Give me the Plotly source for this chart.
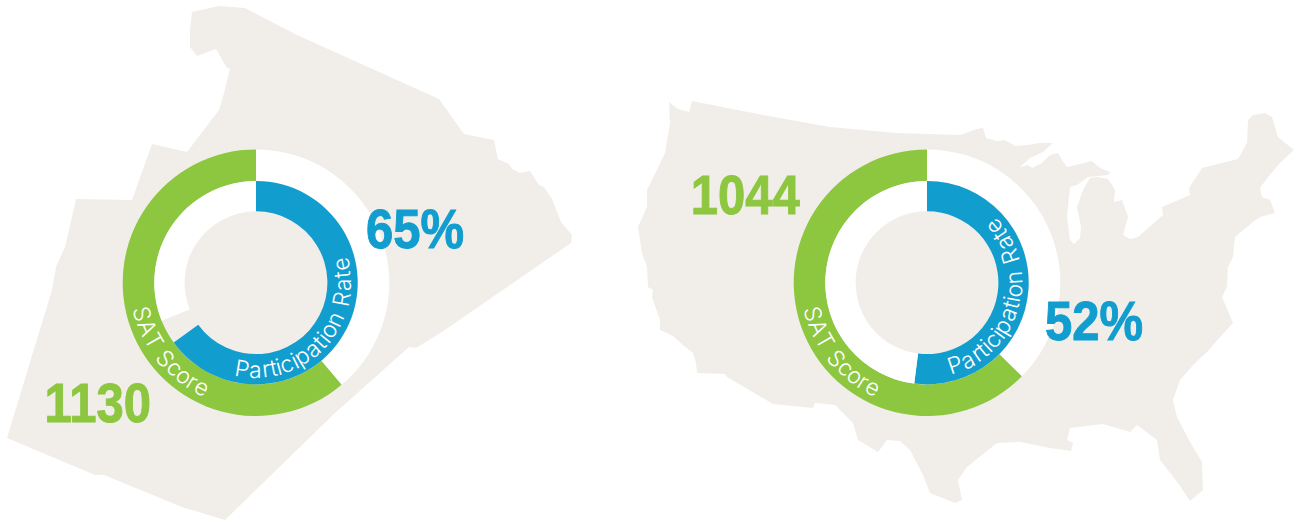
import math
import plotly.graph_objects as go

W, H = 1299, 525
BEIGE, GREEN, BLUE, WHITE = "#F1EEEA", "#8DC63F", "#129DCF", "#FFFFFF"
CLEAR = "rgba(0,0,0,0)"

# Region outlines (image pixels)
region_x = [192,219,245,297,439,464,494,498,509,512,520,530,539,544,552,561,572,571,442,416,409,335,225,182,104,95,7,52,56,65,72,76,132,152,187,219,223,230,227,216,197,190,190]
region_y = [12,6,8,35,99,134,140,159,164,169,173,171,185,187,199,222,235,243,332,348,347,413,520,507,475,475,438,290,267,247,217,199,200,144,152,110,97,69,68,49,56,47,30]

usa_x = [669,678,689,692,763,830,897,960,977,983,986,997,1005,1015,1027,1040,1053,1043,1030,1020,1028,1032,1042,1050,1058,1062,1067,1075,1092,1100,1110,1108,1097,1088,1077,1070,1067,1070,1074,1080,1081,1077,1083,1090,1098,1108,1115,1114,1122,1128,1123,1130,1138,1163,1162,1173,1190,1189,1202,1238,1247,1248,1253,1265,1272,1278,1294,1280,1268,1260,1262,1270,1275,1260,1253,1235,1233,1228,1227,1222,1233,1220,1207,1195,1180,1173,1177,1190,1202,1203,1190,1178,1160,1157,1137,1130,1103,1070,1067,1073,1071,1050,1020,997,967,958,962,955,930,923,910,900,887,878,858,853,835,815,813,773,727,725,697,696,693,683,673,660,660,652,653,648,647,642,638,647,647,653,665,670]
usa_y = [102,109,112,101,115,127,133,135,129,128,138,141,140,146,145,143,143,152,158,167,165,168,163,155,153,160,167,165,161,168,172,175,176,177,185,187,217,240,244,238,227,207,190,178,177,179,190,202,200,217,235,239,237,215,207,202,195,188,168,159,143,120,115,113,117,137,150,163,177,188,197,200,213,217,222,237,257,267,287,297,323,337,352,363,380,400,417,442,462,490,501,483,460,440,425,432,424,428,440,443,451,448,442,443,467,480,500,503,493,475,450,441,440,452,440,423,405,403,408,404,377,374,373,363,353,345,336,330,320,297,290,287,267,253,227,207,190,178,153,123]

# One entry per panel
panel_x = [256, 927]
sat_scores = ["1130", "1044"]
participation = ["65%", "52%"]
sat_share = [61.1, 62.6]
participation_share = [65.0, 52.0]
gap_share = [3.9, 0.0]

cy = 282.7
R_OUT, R_MID, R_IN = 133.3, 101.7, 71.4

sat_label = "SAT Score"
part_label = "Participation Rate"
sat_start = [258.5, 258.5]
part_start = [194.5, 166.5]
score_xy = [(97.5, 402), (745.5, 194)]
pct_xy = [(415, 228), (1094, 320)]

glyph_w = {"P":.667,"a":.556,"r":.333,"t":.278,"i":.222,"c":.5,"p":.556,"o":.556,"n":.556," ":.278,
           "R":.722,"e":.556,"S":.667,"A":.667,"T":.611}

fig = go.Figure()
for xs, ys in [(region_x, region_y), (usa_x, usa_y)]:
    fig.add_trace(go.Scatter(x=xs, y=ys, mode="lines", fill="toself", fillcolor=BEIGE,
                             line=dict(width=0), hoverinfo="skip", showlegend=False))

def dom(cx, r):
    return dict(x=[(cx - r) / W, (cx + r) / W], y=[1 - (cy + r) / H, 1 - (cy - r) / H])

for i, cx in enumerate(panel_x):
    fig.add_trace(go.Pie(values=[100 - sat_share[i], sat_share[i]], sort=False, direction="clockwise",
                         rotation=0, hole=R_MID / R_OUT, domain=dom(cx, R_OUT), textinfo="none",
                         marker=dict(colors=[WHITE, GREEN], line=dict(width=0)),
                         hoverinfo="skip", showlegend=False))
    rest = 100 - participation_share[i] - gap_share[i]
    fig.add_trace(go.Pie(values=[participation_share[i], gap_share[i], rest], sort=False, direction="clockwise",
                         rotation=0, hole=R_IN / R_MID, domain=dom(cx, R_MID), textinfo="none",
                         marker=dict(colors=[BLUE, CLEAR, WHITE], line=dict(width=0)),
                         hoverinfo="skip", showlegend=False))

annotations = []
def arc_text(text, cx, start_deg, r, size, advance):
    pos = 0.0
    for ch in text:
        w = glyph_w[ch] * advance
        if ch != " ":
            th = start_deg - math.degrees((pos + w / 2) / r)
            a = math.radians(th)
            annotations.append(dict(x=cx + r * math.sin(a), y=cy - r * math.cos(a), xref="x", yref="y",
                                    text=ch, showarrow=False, textangle=th - 180, xanchor="center", yanchor="middle",
                                    font=dict(family="Inter", size=size, color=WHITE, weight=300)))
        pos += w

def big(text, xy, color):
    annotations.append(dict(x=xy[0], y=xy[1], xref="x", yref="y", text=text, showarrow=False,
                            xanchor="center", yanchor="middle",
                            font=dict(family="Liberation Sans", size=56, color=color, weight="bold")))

for i, cx in enumerate(panel_x):
    arc_text(sat_label, cx, sat_start[i], 118, 23, 23)
    arc_text(part_label, cx, part_start[i], 87, 23, 23.2)
    big(sat_scores[i], score_xy[i], GREEN)
    big(participation[i], pct_xy[i], BLUE)

fig.update_layout(width=W, height=H, margin=dict(l=0, r=0, t=0, b=0), paper_bgcolor="white", plot_bgcolor="white",
                  showlegend=False, annotations=annotations,
                  xaxis=dict(range=[0, W], visible=False, fixedrange=True),
                  yaxis=dict(range=[H, 0], visible=False, fixedrange=True))

condense = """
document.body.style.margin = '0';
document.querySelectorAll('.annotation-text').forEach(function (t) {
  if (t.textContent.length > 2) {
    t.style.transformBox = 'fill-box';
    t.style.transformOrigin = 'center';
    t.style.transform = 'scaleX(0.875)';
    t.style.stroke = t.style.fill;
    t.style.strokeWidth = '1px';
  }
});
"""
fig.write_html("out.html", config=dict(displayModeBar=False, responsive=False), post_script=condense)
